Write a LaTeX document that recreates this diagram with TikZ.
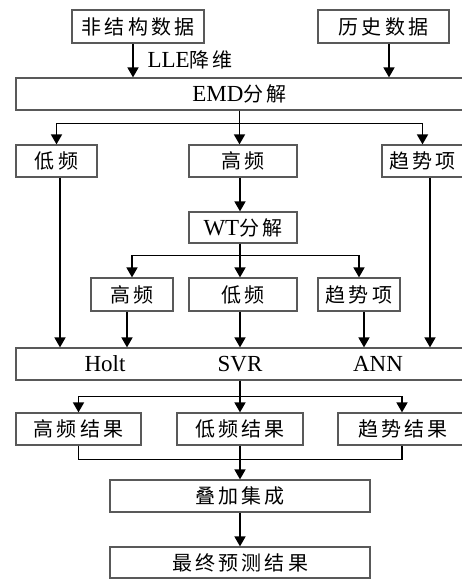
\documentclass[tikz,border=0pt]{standalone}
\usepackage{fontspec}
\setmainfont{Liberation Serif}
\newfontfamily\cjk[LetterSpace=16]{Noto Sans CJK SC}
\usetikzlibrary{arrows.meta}
\newcommand\zh[1]{{\cjk\fontsize{20}{22}\selectfont #1}}
\newcommand\la[1]{{\fontsize{23}{24}\selectfont #1}}
\begin{document}
\begin{tikzpicture}[x=1pt,y=-1pt,
  box/.style={draw=gray!70!black, line width=1.2pt, inner sep=0pt, align=center},
  arr/.style={line width=1.6pt, -{Triangle[length=10pt,width=11pt]}},
  ln/.style={line width=1.6pt}]
\useasboundingbox (0,0) rectangle (462,579);
\clip (0,0) rectangle (462,579);
% boxes
\node[box, minimum width=132pt, minimum height=33pt] (n1) at (138,26.5) {\zh{非结构数据}};
\node[box, minimum width=131pt, minimum height=33pt] (n2) at (383.5,26.5) {\zh{历史数据}};
\node[anchor=west] (lle) at (144,60) {\la{LLE}\zh{降维}};
\node[box, minimum width=447pt, minimum height=32pt] (emd) at (239.5,94) {\la{EMD}\zh{分解}};
\node[box, minimum width=81pt, minimum height=32pt] (low1) at (56.5,161) {\zh{低频}};
\node[box, minimum width=108pt, minimum height=32pt] (high1) at (243,161) {\zh{高频}};
\node[box, minimum width=81pt, minimum height=32pt] (trend1) at (422.5,161) {\zh{趋势项}};
\node[box, minimum width=108pt, minimum height=31pt] (wt) at (243,227.5) {\la{WT}\zh{分解}};
\node[box, minimum width=82pt, minimum height=33pt] (high2) at (132,294.5) {\zh{高频}};
\node[box, minimum width=108pt, minimum height=33pt] (low2) at (243,294.5) {\zh{低频}};
\node[box, minimum width=82pt, minimum height=33pt] (trend2) at (359,294.5) {\zh{趋势项}};
\node[box, minimum width=447pt, minimum height=32pt] (model) at (239.5,364) {};
\node (holt) at (105,364) {\la{Holt}};
\node (svr) at (240,364) {\la{SVR}};
\node (ann) at (378,364) {\la{ANN}};
\node[box, minimum width=125pt, minimum height=32pt] (r1) at (78.5,429) {\zh{高频结果}};
\node[box, minimum width=126pt, minimum height=32pt] (r2) at (240,429) {\zh{低频结果}};
\node[box, minimum width=130pt, minimum height=32pt] (r3) at (403,429) {\zh{趋势结果}};
\node[box, minimum width=260pt, minimum height=32pt] (sum) at (240,496) {\zh{叠加集成}};
\node[box, minimum width=260pt, minimum height=31pt] (final) at (240,562.5) {\zh{最终预测结果}};
% connectors
\draw[arr] ([xshift=-5pt]n1.south) -- ([xshift=-5pt]n1.south |- emd.north);
\draw[arr] ([xshift=5.5pt]n2.south) -- ([xshift=5.5pt]n2.south |- emd.north);
\draw[arr] (emd.south) -- ++(0,13) -| (low1.north);
\draw[arr] (emd.south) -- ++(0,13) -| (trend1.north);
\draw[arr] (emd.south) -- (emd.south |- high1.north);
\draw[arr] ([xshift=3.5pt]low1.south) -- ([xshift=3.5pt]low1.south |- model.north);
\draw[arr] ([xshift=7.5pt]trend1.south) -- ([xshift=7.5pt]trend1.south |- model.north);
\draw[arr] ([xshift=-3pt]high1.south) -- ([xshift=-3pt]wt.north);
\draw[arr] ([xshift=-3pt]wt.south) -- ++(0,12) -| (high2.north);
\draw[arr] ([xshift=-3pt]wt.south) -- ++(0,12) -| (trend2.north);
\draw[arr] ([xshift=-3pt]wt.south) -- ([xshift=-3pt]low2.north);
\draw[arr] ([xshift=-5pt]high2.south) -- ([xshift=-5pt]high2.south |- model.north);
\draw[arr] ([xshift=-3pt]low2.south) -- ([xshift=-3pt]low2.south |- model.north);
\draw[arr] ([xshift=5pt]trend2.south) -- ([xshift=5pt]trend2.south |- model.north);
\draw[arr] ([xshift=0.5pt]model.south) -- ++(0,16) -| (r1.north);
\draw[arr] ([xshift=0.5pt]model.south) -- ++(0,16) -| ([xshift=-1pt]r3.north);
\draw[arr] ([xshift=0.5pt]model.south) -- (r2.north);
\draw[ln] (r1.south) -- ++(0,14) -| ([xshift=-1pt]r3.south);
\draw[arr] (r2.south) -- (sum.north);
\draw[arr] (sum.south) -- (final.north);
\end{tikzpicture}
\end{document}
